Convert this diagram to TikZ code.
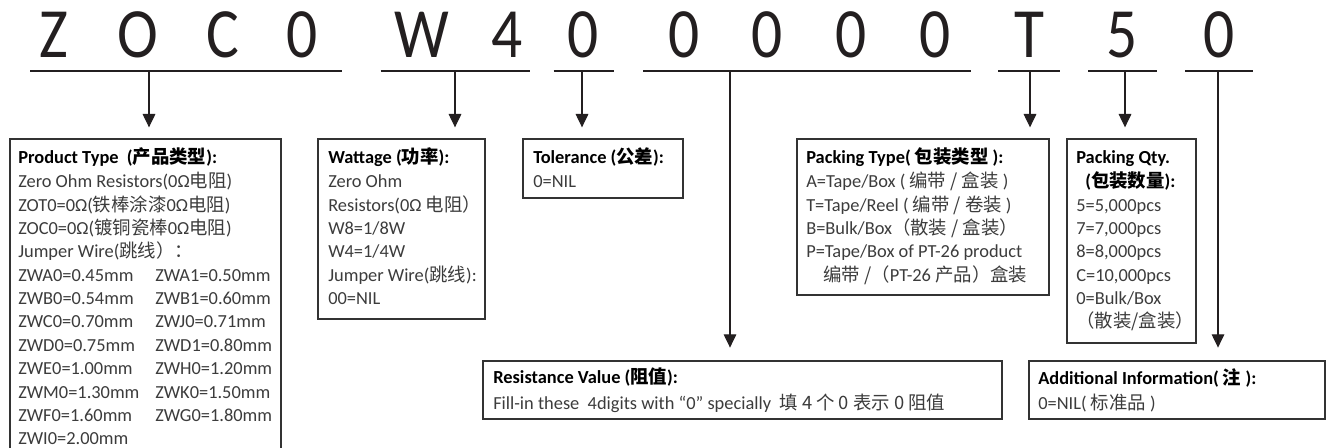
\documentclass[tikz,border=0pt]{standalone}
\usepackage{fontspec}
\usepackage{graphicx}
\setmainfont{Carlito}
\newfontfamily\cjk{Noto Sans CJK SC}
\newcommand{\zh}[1]{{\cjk #1}}
\newcommand{\bodyfont}{\fontsize{13.8pt}{16pt}\selectfont}
\newcommand{\narrowchar}[1]{\scalebox{0.87}[1]{#1}}
\usetikzlibrary{arrows.meta,fit}
\definecolor{ink}{HTML}{231F20}
\definecolor{txt}{HTML}{3C3C3C}
\definecolor{frame}{HTML}{333333}
\begin{document}
\begin{tikzpicture}[x=0.75pt,y=-0.75pt,
  big/.style={anchor=base, inner sep=0pt, text=ink, font=\fontsize{53pt}{53pt}\selectfont},
  ul/.style={draw=ink, line width=1.5pt},
  box/.style={draw=frame, line width=1.1pt, inner sep=0pt},
  arr/.style={draw=ink, line width=0.8pt, -{Triangle[width=9.5pt,length=10pt]}},
  body/.style={anchor=base west, inner sep=0pt, text=txt, font=\bodyfont},
  ttl/.style={anchor=base west, inner sep=0pt, text=black, font=\bodyfont\bfseries}]
\useasboundingbox[fill=white] (0,0) rectangle (1330,448);

% code letters
\node[big] (c1) at (54,58) {\narrowchar{Z}};
\node[big] (c2) at (138,58) {\narrowchar{O}};
\node[big] (c3) at (223,58) {\narrowchar{C}};
\node[big] (c4) at (302,58) {\narrowchar{0}};
\node[big] (c5) at (422,58) {\narrowchar{W}};
\node[big] (c6) at (507,58) {\narrowchar{4}};
\node[big] (c7) at (583,58) {\narrowchar{0}};
\node[big] (c8) at (684,58) {\narrowchar{0}};
\node[big] (c9) at (767,58) {\narrowchar{0}};
\node[big] (c10) at (851,58) {\narrowchar{0}};
\node[big] (c11) at (935,58) {\narrowchar{0}};
\node[big] (c12) at (1029,58) {\narrowchar{T}};
\node[big] (c13) at (1122,58) {\narrowchar{5}};
\node[big] (c14) at (1219,58) {\narrowchar{0}};

% underlines
\draw[ul] (30,71) -- (341.5,71);
\draw[ul] (380.5,71) -- (530,71);
\draw[ul] (553.7,71) -- (614,71);
\draw[ul] (643,71) -- (971,71);
\draw[ul] (998,71) -- (1060,71);
\draw[ul] (1088,71) -- (1157,71);
\draw[ul] (1185,71) -- (1253,71);

% arrow starts
\coordinate (u1) at (149,71);
\coordinate (u2) at (455,71);
\coordinate (u3) at (582,71);
\coordinate (u4) at (730,71);
\coordinate (u5) at (1030,71);
\coordinate (u6) at (1125,71);
\coordinate (u7) at (1218,71);

% boxes
\node[box, fit={(10,139) (281,470)}] (prod) {};
\node[box, fit={(318,139) (485,319)}] (watt) {};
\node[box, fit={(523,139) (683,198)}] (tol) {};
\node[box, fit={(797,139) (1049,295)}] (ptype) {};
\node[box, fit={(1067,139) (1196,343)}] (pqty) {};
\node[box, fit={(483,361) (1002,419)}] (res) {};
\node[box, fit={(1029,361) (1325,419)}] (add) {};

% arrows
\draw[arr, shorten >=8.2pt] (u1) -- (u1 |- prod.north);
\draw[arr, shorten >=8.2pt] (u2) -- (u2 |- watt.north);
\draw[arr, shorten >=8.2pt] (u3) -- (u3 |- tol.north);
\draw[arr, shorten >=9.5pt] (u4) -- (u4 |- res.north);
\draw[arr, shorten >=8.2pt] (u5) -- (u5 |- ptype.north);
\draw[arr, shorten >=8.2pt] (u6) -- (u6 |- pqty.north);
\draw[arr, shorten >=9.5pt] (u7) -- (u7 |- add.north);

% product type
\node[ttl] (p0) at (18,164) {Product Type\ \ (\zh{产品类型}):};
\node[body] (p1) at (18,188) {Zero Ohm Resistors(0Ω\zh{电阻})};
\node[body] (p2) at (18,211.3) {ZOT0=0Ω(\zh{铁棒涂漆}0Ω\zh{电阻})};
\node[body] (p3) at (18,234.7) {ZOC0=0Ω(\zh{镀铜瓷棒}0Ω\zh{电阻})};
\node[body] (p4) at (18,258) {Jumper Wire(\zh{跳线）：}};
\node[body] (p5) at (18,281.3) {ZWA0=0.45mm};
\node[body] (p6) at (18,304.7) {ZWB0=0.54mm};
\node[body] (p7) at (18,328) {ZWC0=0.70mm};
\node[body] (p8) at (18,351.3) {ZWD0=0.75mm};
\node[body] (p9) at (18,374.7) {ZWE0=1.00mm};
\node[body] (p10) at (18,398) {ZWM0=1.30mm};
\node[body] (p11) at (18,421.3) {ZWF0=1.60mm};
\node[body] (p12) at (18,444.7) {ZWI0=2.00mm};
\node[body] (q5) at (155,281.3) {ZWA1=0.50mm};
\node[body] (q6) at (155,304.7) {ZWB1=0.60mm};
\node[body] (q7) at (155,328) {ZWJ0=0.71mm};
\node[body] (q8) at (155,351.3) {ZWD1=0.80mm};
\node[body] (q9) at (155,374.7) {ZWH0=1.20mm};
\node[body] (q10) at (155,398) {ZWK0=1.50mm};
\node[body] (q11) at (155,421.3) {ZWG0=1.80mm};

% wattage
\node[ttl] (w0) at (328,164) {Wattage (\zh{功率}):};
\node[body] (w1) at (328,188) {Zero Ohm};
\node[body] (w2) at (328,211.3) {Resistors(0Ω \zh{电阻）}};
\node[body] (w3) at (328,234.7) {W8=1/8W};
\node[body] (w4) at (328,258) {W4=1/4W};
\node[body] (w5) at (328,281.3) {Jumper Wire(\zh{跳线}):};
\node[body] (w6) at (328,304.7) {00=NIL};

% tolerance
\node[ttl] (t0) at (533,164) {Tolerance (\zh{公差}):};
\node[body] (t1) at (533,188) {0=NIL};

% packing type
\node[ttl] (k0) at (806,164) {Packing Type( \zh{包装类型} ):};
\node[body] (k1) at (806,188) {A=Tape/Box ( \zh{编带 / 盒装} )};
\node[body] (k2) at (806,211.3) {T=Tape/Reel ( \zh{编带 / 卷装} )};
\node[body] (k3) at (806,234.7) {B=Bulk/Box\zh{（散装 / 盒装）}};
\node[body] (k4) at (806,258) {P=Tape/Box of PT-26 product};
\node[body] (k5) at (823,281.3) {\zh{编带 /（}PT-26 \zh{产品）盒装}};

% packing qty
\node[ttl] (n0) at (1076,164) {Packing Qty.};
\node[ttl] (n1) at (1085,188) {(\zh{包装数量}):};
\node[body] (n2) at (1076,211.3) {5=5,000pcs};
\node[body] (n3) at (1076,234.7) {7=7,000pcs};
\node[body] (n4) at (1076,258) {8=8,000pcs};
\node[body] (n5) at (1076,281.3) {C=10,000pcs};
\node[body] (n6) at (1076,304.7) {0=Bulk/Box};
\node[body] (n7) at (1076,328) {\zh{（散装/盒装）}};

% resistance value
\node[ttl] (r0) at (493,384) {Resistance Value (\zh{阻值}):};
\node[body] (r1) at (493,410) {Fill-in these\ \ 4digits with “0” specially\ \ \zh{填 4 个 0 表示 0 阻值}};

% additional information
\node[ttl] (a0) at (1038,385) {Additional Information( \zh{注} ):};
\node[body] (a1) at (1038,410) {0=NIL( \zh{标准品} )};
\end{tikzpicture}
\end{document}
